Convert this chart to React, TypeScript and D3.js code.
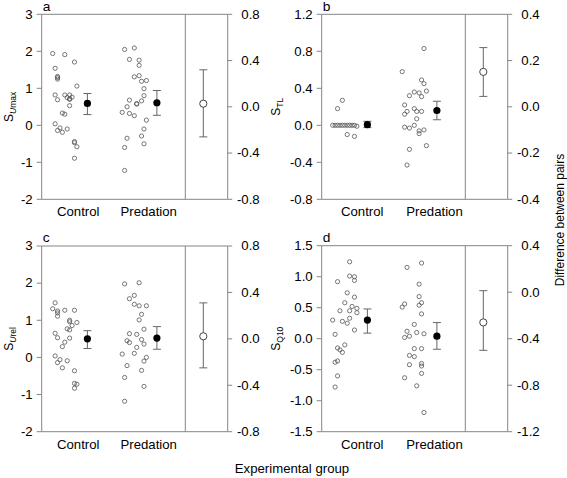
import React from "react";
import * as d3 from "d3";

// ---------- data ----------
const groups = ["Control", "Predation"];

// points: [jitter column (0-10), value]
const aControl: [number, number][] = [
  [0, 1.94], [5, 1.91], [9, 1.71], [1, 1.54], [2, 1.32], [2, 1.29], [2, 1.25], [10, 1.06],
  [1, 0.82], [5, 0.82], [7, 0.82], [2, 0.69], [6, 0.75], [7, 0.72], [8, 0.76], [7, 0.7],
  [7, 0.53], [4, 0.33], [5, 0.3], [1, 0.04], [3, -0.07], [2, -0.14], [4, -0.19], [6, -0.1],
  [9, -0.44], [9, -0.47], [10, -0.58], [9, -0.89],
];
const aPredation: [number, number][] = [
  [1, 2.05], [5, 2.09], [3, 1.78], [7, 1.76], [7, 1.62], [7, 1.34], [5, 1.31], [8, 1.19],
  [10, 1.21], [9, 0.99], [9, 0.8], [3, 0.68], [8, 0.66], [6, 0.59], [6, 0.57], [2, 0.5],
  [0, 0.35], [3, 0.32], [5, 0.26], [10, 0.14], [9, -0.1], [2, -0.35], [8, -0.29], [9, -0.5],
  [1, -0.6], [1, -1.22],
];
const aMeans = [[0.59, 0.29, 0.86], [0.61, 0.27, 0.94]];
const aDiff = [0.027, -0.26, 0.32];

const bControl: [number, number][] = [
  [0, 0.0], [1, 0.0], [2, 0.0], [3, 0.0], [4, 0.0], [5, 0.0], [6, 0.0], [7, 0.0], [8, 0.0],
  [9, 0.0], [10, -0.01], [2, 0.18], [4, 0.27], [6, -0.1], [9, -0.12],
];
const bPredation: [number, number][] = [
  [9, 0.83], [0, 0.58], [8, 0.49], [9, 0.45], [3, 0.32], [5, 0.36], [7, 0.35], [8, 0.31],
  [10, 0.37], [1, 0.22], [2, 0.15], [1, 0.12], [5, 0.18], [6, 0.15], [8, 0.15], [6, 0.07],
  [1, -0.02], [3, -0.03], [5, 0.0], [7, -0.06], [9, -0.05], [7, -0.09], [10, -0.22],
  [3, -0.26], [2, -0.43],
];
const bMeans = [[0.007, -0.025, 0.043], [0.16, 0.06, 0.26]];
const bDiff = [0.151, 0.045, 0.256];

const cControl: [number, number][] = [
  [1, 1.47], [0, 1.31], [2, 1.25], [2, 1.2], [2, 1.11], [5, 1.27], [9, 1.27], [7, 1.0],
  [7, 0.96], [10, 0.94], [8, 0.86], [6, 0.77], [7, 0.74], [1, 0.65], [2, 0.53], [7, 0.52],
  [5, 0.41], [4, 0.29], [1, 0.04], [3, -0.06], [2, -0.14], [6, -0.09], [4, -0.28],
  [9, -0.36], [9, -0.7], [10, -0.72], [9, -0.83],
];
const cPredation: [number, number][] = [
  [1, 1.98], [7, 2.01], [5, 1.67], [3, 1.58], [5, 1.43], [7, 1.39], [10, 1.39], [8, 1.16],
  [7, 1.01], [9, 0.76], [3, 0.64], [6, 0.62], [2, 0.45], [3, 0.4], [8, 0.48], [9, 0.36],
  [6, 0.27], [5, 0.11], [0, 0.09], [10, 0.0], [9, -0.1], [2, -0.22], [8, -0.35],
  [1, -0.54], [9, -0.78], [1, -1.18],
];
const cMeans = [[0.5, 0.24, 0.72], [0.52, 0.22, 0.83]];
const cDiff = [0.022, -0.25, 0.31];

const dControl: [number, number][] = [
  [7, 1.24], [7, 1.01], [9, 1.0], [9, 0.94], [2, 0.92], [6, 0.74], [9, 0.67], [5, 0.58],
  [8, 0.52], [10, 0.49], [3, 0.45], [7, 0.45], [10, 0.42], [4, 0.28], [6, 0.25], [7, 0.33],
  [0, 0.3], [9, 0.14], [1, 0.07], [5, -0.1], [2, -0.15], [3, -0.18], [4, -0.22], [2, -0.36],
  [1, -0.38], [2, -0.6], [1, -0.78],
];
const dPredation: [number, number][] = [
  [8, 1.22], [2, 1.15], [7, 0.88], [7, 0.68], [8, 0.58], [1, 0.56], [0, 0.51], [7, 0.54],
  [8, 0.4], [5, 0.23], [2, 0.12], [6, 0.1], [9, 0.08], [1, 0.02], [3, 0.04], [5, -0.16],
  [8, -0.16], [3, -0.27], [5, -0.29], [8, -0.4], [8, -0.44], [3, -0.42], [8, -0.56],
  [1, -0.63], [6, -0.76], [9, -1.19],
];
const dMeans = [[0.3, 0.09, 0.48], [0.04, -0.17, 0.26]];
const dDiff = [-0.26, -0.5, 0.013];

// axis ticks
const leftTicksAC = [-2, -1, 0, 1, 2, 3];
const rightTicksAC = [-0.8, -0.4, 0, 0.4, 0.8];
const leftTicksB = [-0.8, -0.4, 0, 0.4, 0.8, 1.2];
const rightTicksB = [-0.4, -0.2, 0, 0.2, 0.4];
const leftTicksD = [-1.5, -1.0, -0.5, 0, 0.5, 1.0, 1.5];
const rightTicksD = [-1.2, -0.8, -0.4, 0, 0.4];

// ---------- styling / layout ----------
const FONT = "'Liberation Sans', Arial, Helvetica, sans-serif";
const SX = 1.1;
const AXIS = "#858585";
const PT = "#555555";

const fix = (s: string) => s.replace(/\u2212/g, "-");
const fmtInt = (v: number) => fix(d3.format("d")(v));
const fmt1 = (v: number) => fix(d3.format(".1f")(v));

function T(props: {
  x: number; y: number; anchor?: string; size?: number; rotate?: number; children: any;
}) {
  const { x, y, anchor = "start", size = 12, rotate = 0, children } = props;
  return (
    <text
      transform={`translate(${x},${y}) scale(${SX},1)${rotate ? ` rotate(${rotate})` : ""}`}
      textAnchor={anchor as any}
      fontSize={size}
      fontFamily={FONT}
      fill="#000"
    >
      {children}
    </text>
  );
}

type PanelDef = {
  letter: string;
  left: number;
  top: number;
  bottom: number;
  yDomain: [number, number];
  rDomain: [number, number];
  leftTicks: number[];
  rightTicks: number[];
  leftFmt: (v: number) => string;
  control: [number, number][];
  predation: [number, number][];
  means: number[][];
  diff: number[];
  ylabel: any;
  ylabelX: number;
  labelOffsets: [number, number];
};

const W = 186; // left axis to right axis
const DIV = 143.6;
const DIFFX = 161.6;
const COLSTEP = 2.42;
const MEANOFF = 34.7;

function Panel({ p }: { p: PanelDef }) {
  const y = d3.scaleLinear().domain(p.yDomain).range([p.bottom, p.top]);
  const yr = d3.scaleLinear().domain(p.rDomain).range([p.bottom, p.top]);
  const gx = d3.scalePoint<string>().domain(groups).range([p.left + 11, p.left + 80.5]);
  const right = p.left + W;
  const div = p.left + DIV;
  const sets = [p.control, p.predation];
  const mid = (p.top + p.bottom) / 2;
  const cap = 4;
  return (
    <g>
      {/* frame */}
      <g stroke={AXIS} strokeWidth={1} fill="none">
        <line x1={p.left} x2={p.left} y1={p.top} y2={p.bottom} />
        <line x1={p.left} x2={right} y1={p.top} y2={p.top} />
        <line x1={p.left} x2={right} y1={p.bottom} y2={p.bottom} />
        <line x1={div} x2={div} y1={p.top} y2={p.bottom} />
        <line x1={right} x2={right} y1={p.top} y2={p.bottom} />
        {p.leftTicks.map((t) => (
          <line key={"l" + t} x1={p.left - 5} x2={p.left} y1={y(t)} y2={y(t)} />
        ))}
        {p.rightTicks.map((t) => (
          <line key={"r" + t} x1={right} x2={right + 4.5} y1={yr(t)} y2={yr(t)} />
        ))}
      </g>
      {p.leftTicks.map((t) => (
        <T key={"lt" + t} x={p.left - 9} y={y(t) + 4.3} anchor="end">
          {p.leftFmt(t)}
        </T>
      ))}
      {p.rightTicks.map((t) => (
        <T key={"rt" + t} x={right + 32} y={yr(t) + 4.3} anchor="end">
          {fmt1(t)}
        </T>
      ))}
      {/* points */}
      {sets.map((pts, gi) =>
        pts.map(([c, v], i) => (
          <circle
            key={gi + "-" + i}
            cx={(gx(groups[gi]) as number) + c * COLSTEP}
            cy={y(v)}
            r={2.1}
            fill="white"
            fillOpacity={0}
            stroke={PT}
            strokeWidth={0.8}
          />
        ))
      )}
      {/* means with error bars */}
      {p.means.map(([m, lo, hi], gi) => {
        const cx = (gx(groups[gi]) as number) + MEANOFF;
        return (
          <g key={"m" + gi}>
            <g stroke="#666" strokeWidth={1}>
              <line x1={cx} x2={cx} y1={y(lo)} y2={y(hi)} />
              <line x1={cx - cap} x2={cx + cap} y1={y(lo)} y2={y(lo)} />
              <line x1={cx - cap} x2={cx + cap} y1={y(hi)} y2={y(hi)} />
            </g>
            <circle cx={cx} cy={y(m)} r={3.6} fill="#000" />
          </g>
        );
      })}
      {/* difference between pairs */}
      {(() => {
        const [m, lo, hi] = p.diff;
        const cx = p.left + DIFFX;
        return (
          <g>
            <g stroke="#666" strokeWidth={1}>
              <line x1={cx} x2={cx} y1={yr(lo)} y2={yr(hi)} />
              <line x1={cx - cap} x2={cx + cap} y1={yr(lo)} y2={yr(lo)} />
              <line x1={cx - cap} x2={cx + cap} y1={yr(hi)} y2={yr(hi)} />
            </g>
            <circle cx={cx} cy={yr(m)} r={3.6} fill="#fff" stroke="#444" strokeWidth={1} />
          </g>
        );
      })()}
      {/* category labels */}
      {groups.map((g, gi) => (
        <T key={g} x={p.left + p.labelOffsets[gi]} y={p.bottom + 17} anchor="middle">
          {g}
        </T>
      ))}
      {/* panel letter */}
      <T x={p.left + 1} y={p.top - 3.6} size={12.5}>
        {p.letter}
      </T>
      {/* y label */}
      <T x={p.ylabelX} y={mid} anchor="middle" rotate={-90}>
        {p.ylabel}
      </T>
    </g>
  );
}

const sub = (parts: any) => (
  <tspan fontSize={8.5} dy={3}>
    {parts}
  </tspan>
);

const panels: PanelDef[] = [
  {
    letter: "a", left: 41.7, top: 14.3, bottom: 199.3,
    yDomain: [-2, 3], rDomain: [-0.8, 0.8],
    leftTicks: leftTicksAC, rightTicks: rightTicksAC, leftFmt: fmtInt,
    control: aControl, predation: aPredation, means: aMeans, diff: aDiff,
    ylabel: (<>S{sub(<><tspan fontStyle="italic">U</tspan>max</>)}</>),
    ylabelX: 12.5,
    labelOffsets: [36.5, 107],
  },
  {
    letter: "b", left: 321.7, top: 14.3, bottom: 199.3,
    yDomain: [-0.8, 1.2], rDomain: [-0.4, 0.4],
    leftTicks: leftTicksB, rightTicks: rightTicksB, leftFmt: fmt1,
    control: bControl, predation: bPredation, means: bMeans, diff: bDiff,
    ylabel: (<>S{sub("TL")}</>),
    ylabelX: 279.5,
    labelOffsets: [40.5, 112.8],
  },
  {
    letter: "c", left: 41.7, top: 246, bottom: 431.7,
    yDomain: [-2, 3], rDomain: [-0.8, 0.8],
    leftTicks: leftTicksAC, rightTicks: rightTicksAC, leftFmt: fmtInt,
    control: cControl, predation: cPredation, means: cMeans, diff: cDiff,
    ylabel: (<>S{sub(<><tspan fontStyle="italic">U</tspan>rel</>)}</>),
    ylabelX: 12.5,
    labelOffsets: [36.5, 107],
  },
  {
    letter: "d", left: 321.7, top: 245.7, bottom: 431.7,
    yDomain: [-1.5, 1.5], rDomain: [-1.2, 0.4],
    leftTicks: leftTicksD, rightTicks: rightTicksD, leftFmt: fmt1,
    control: dControl, predation: dPredation, means: dMeans, diff: dDiff,
    ylabel: (<>S{sub("Q10")}</>),
    ylabelX: 279.5,
    labelOffsets: [40.5, 112.8],
  },
];

export default function App() {
  return (
    <svg
      width={567}
      height={478}
      style={{ position: "absolute", left: 0, top: 0, background: "#fff" }}
    >
      <rect width={567} height={478} fill="#fff" />
      {panels.map((p) => (
        <Panel key={p.letter} p={p} />
      ))}
      <T x={292} y={473} anchor="middle">Experimental group</T>
      <T x={564} y={220} anchor="middle" rotate={-90}>Difference between pairs</T>
    </svg>
  );
}
